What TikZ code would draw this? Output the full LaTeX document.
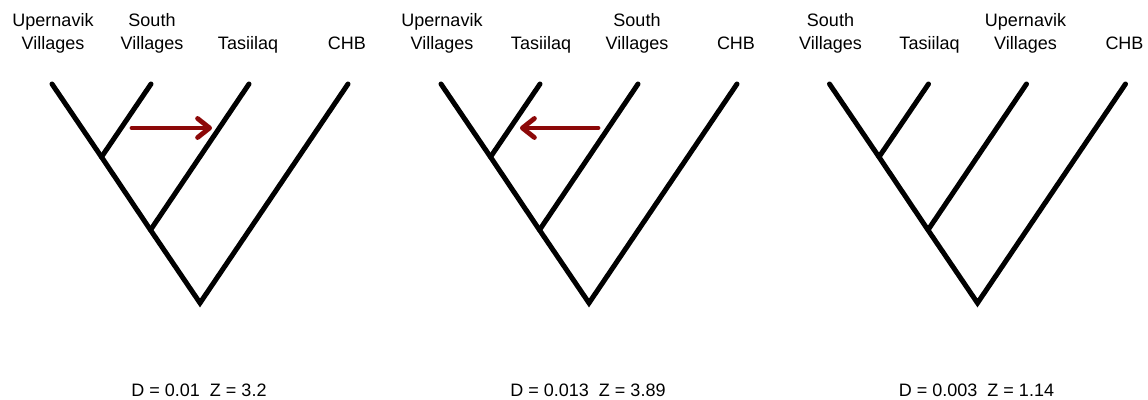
\documentclass[tikz,border=0pt]{standalone}
\usepackage{fontspec}
\setmainfont{Liberation Sans}
\usetikzlibrary{arrows.meta}
\definecolor{arrowred}{RGB}{140,8,8}
\tikzset{
  branch/.style={line width=2.5pt, line cap=round, line join=miter, black},
  taxon/.style={anchor=south, inner sep=0pt, text depth=0pt, align=center,
    font=\fontsize{9pt}{11.5pt}\selectfont},
  stat/.style={anchor=base, inner sep=0pt, font=\fontsize{9pt}{11pt}\selectfont},
  flow/.style={line width=2.4pt, line cap=round, arrowred,
    -{Straight Barb[length=6pt, width=9.5pt, line cap=round, line join=round]}}
}
\newcommand\phylotree[7]{%
  \begin{scope}[shift={(#2,0)}]
    \coordinate (#1L1) at (52,84);
    \coordinate (#1L2) at (151,84);
    \coordinate (#1L3) at (249,84);
    \coordinate (#1L4) at (348,84);
    \coordinate (#1N1) at (101.5,157);
    \coordinate (#1N2) at (150.5,230);
    \coordinate (#1R) at (200,303);
    \draw[branch] (#1L1) -- (#1N1) -- (#1N2) -- (#1R) -- (#1L4);
    \draw[branch] (#1L2) -- (#1N1);
    \draw[branch] (#1L3) -- (#1N2);
    \node[taxon] (#1T1) at (53,50) {#3};
    \node[taxon] (#1T2) at (152,50) {#4};
    \node[taxon] (#1T3) at (248,50) {#5};
    \node[taxon] (#1T4) at (347,50) {#6};
    \node[stat] (#1S) at (199,397) {#7};
  \end{scope}}
\begin{document}
\begin{tikzpicture}[x=0.5pt, y=-0.5pt]
  \useasboundingbox (0,0) rectangle (1148,400);
  \phylotree{a}{0}{Upernavik\\Villages}{South\\Villages}{Tasiilaq}{CHB}{D = 0.01\ \ Z = 3.2}
  \phylotree{b}{389}{Upernavik\\Villages}{Tasiilaq}{South\\Villages}{CHB}{D = 0.013\ \ Z = 3.89}
  \phylotree{c}{777.5}{South\\Villages}{Tasiilaq}{Upernavik\\Villages}{CHB}{D = 0.003\ \ Z = 1.14}
  \coordinate (a1s) at (132,128);
  \coordinate (a1e) at (212,128);
  \coordinate (b1s) at (598,128);
  \coordinate (b1e) at (520,128);
  \draw[flow] (a1s) -- (a1e);
  \draw[flow] (b1s) -- (b1e);
\end{tikzpicture}
\end{document}
